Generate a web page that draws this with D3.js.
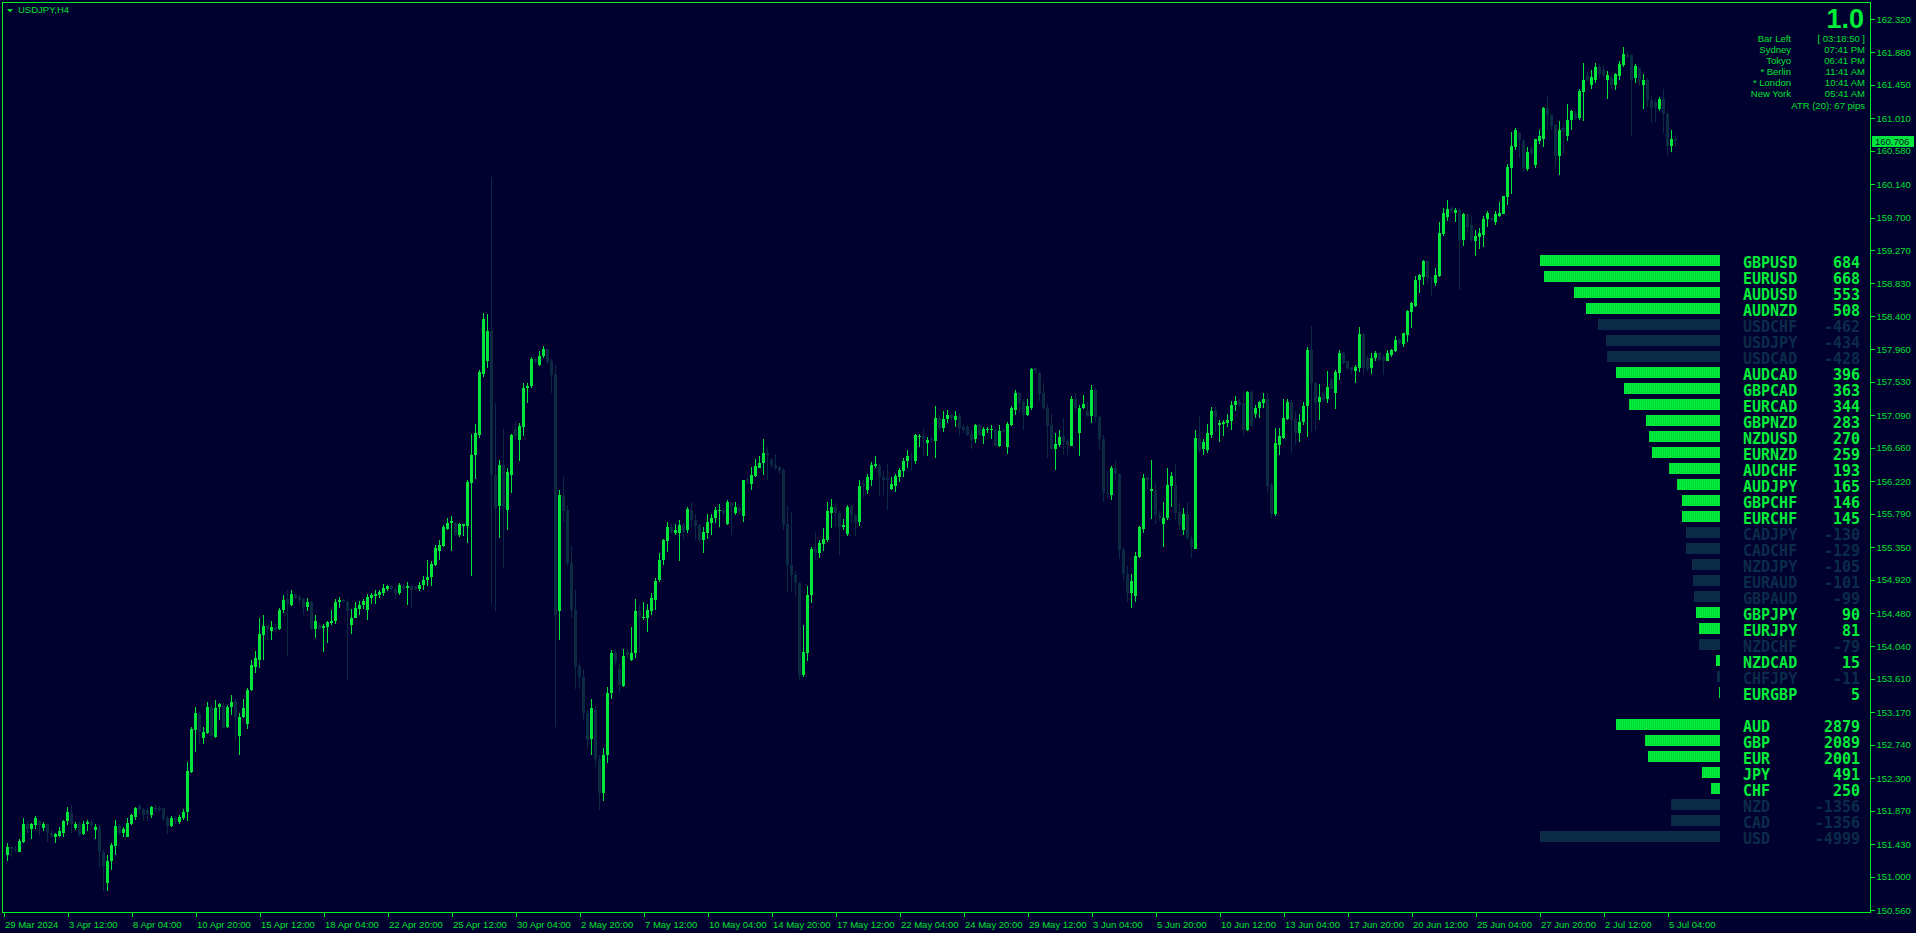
<!DOCTYPE html>
<html><head><meta charset="utf-8">
<script src="https://cdn.jsdelivr.net/npm/d3@7"></script>
<style>html,body{margin:0;padding:0;background:#010130;overflow:hidden}</style>
</head><body><svg id="c" width="1916" height="933"></svg>
<script>
// ---------------- DATA ----------------
const symbolTitle = "USDJPY,H4";
const versionText = "1.0";
const sessionLabels = ["Bar Left","Sydney","Tokyo","* Berlin","* London","New York"];
const sessionValues = ["[ 03:18:50 ]","07:41 PM","06:41 PM","11:41 AM","10:41 AM","05:41 AM"];
const atrText = "ATR (20): 67 pips";
const lastPrice = 160.706;
const yTickValues = [162.320,161.880,161.450,161.010,160.580,160.140,159.700,159.270,158.830,158.400,157.960,157.530,157.090,156.660,156.220,155.790,155.350,154.920,154.480,154.040,153.610,153.170,152.740,152.300,151.870,151.430,151.000,150.560];
const xTickLabels = ["29 Mar 2024","3 Apr 12:00","8 Apr 04:00","10 Apr 20:00","15 Apr 12:00","18 Apr 04:00","22 Apr 20:00","25 Apr 12:00","30 Apr 04:00","2 May 20:00","7 May 12:00","10 May 04:00","14 May 20:00","17 May 12:00","22 May 04:00","24 May 20:00","29 May 12:00","3 Jun 04:00","5 Jun 20:00","10 Jun 12:00","13 Jun 04:00","17 Jun 20:00","20 Jun 12:00","25 Jun 04:00","27 Jun 20:00","2 Jul 12:00","5 Jul 04:00"];
const barsPerLabel = 16;
const pairNames = ["GBPUSD","EURUSD","AUDUSD","AUDNZD","USDCHF","USDJPY","USDCAD","AUDCAD","GBPCAD","EURCAD","GBPNZD","NZDUSD","EURNZD","AUDCHF","AUDJPY","GBPCHF","EURCHF","CADJPY","CADCHF","NZDJPY","EURAUD","GBPAUD","GBPJPY","EURJPY","NZDCHF","NZDCAD","CHFJPY","EURGBP"];
const pairValues = [684,668,553,508,-462,-434,-428,396,363,344,283,270,259,193,165,146,145,-130,-129,-105,-101,-99,90,81,-79,15,-11,5];
const currencyNames = ["AUD","GBP","EUR","JPY","CHF","NZD","CAD","USD"];
const currencyValues = [2879,2089,2001,491,250,-1356,-1356,-4999];
// H4 candles: [open, high, low, close]
const ohlc = [
[151.28,151.44,151.21,151.39],[151.39,151.41,151.26,151.37],[151.37,151.40,151.33,151.36],[151.33,151.50,151.32,151.47],[151.46,151.78,151.45,151.70],
[151.70,151.73,151.57,151.63],[151.63,151.71,151.50,151.69],[151.68,151.80,151.63,151.77],[151.73,151.75,151.55,151.68],[151.64,151.72,151.60,151.69],
[151.69,151.70,151.46,151.58],[151.58,151.61,151.52,151.53],[151.53,151.58,151.45,151.56],[151.54,151.65,151.52,151.60],[151.58,151.75,151.53,151.74],
[151.74,151.92,151.68,151.85],[151.84,151.95,151.58,151.70],[151.64,151.72,151.62,151.69],[151.70,151.73,151.53,151.55],[151.56,151.73,151.55,151.70],
[151.69,151.75,151.60,151.72],[151.72,151.75,151.66,151.68],[151.62,151.70,151.50,151.65],[151.65,151.68,151.11,151.33],[151.33,151.37,150.81,151.14],
[150.91,151.29,150.81,151.21],[151.21,151.45,151.09,151.42],[151.41,151.75,151.28,151.67],[151.67,151.70,151.55,151.58],[151.58,151.65,151.53,151.63],
[151.52,151.78,151.52,151.71],[151.70,151.83,151.68,151.81],[151.79,151.92,151.75,151.91],[151.93,151.96,151.83,151.88],[151.89,151.91,151.73,151.82],
[151.88,151.91,151.73,151.83],[151.82,151.93,151.77,151.92],[151.91,151.94,151.85,151.88],[151.91,151.93,151.86,151.88],[151.90,151.91,151.73,151.76],
[151.78,151.80,151.56,151.67],[151.67,151.80,151.65,151.77],[151.78,151.80,151.70,151.73],[151.72,151.82,151.70,151.79],[151.77,151.89,151.75,151.86],
[151.85,152.52,151.74,152.39],[152.38,152.97,152.37,152.95],[152.94,153.24,152.64,153.16],[153.15,153.17,152.75,152.91],[152.83,152.97,152.75,152.91],
[152.90,153.30,152.88,153.24],[153.24,153.27,152.80,152.86],[152.84,153.33,152.83,153.23],[153.24,153.29,153.07,153.28],[153.27,153.29,152.96,152.96],
[152.97,153.27,152.96,153.24],[153.24,153.40,153.14,153.31],[153.32,153.35,152.81,153.11],[152.85,153.16,152.60,153.11],[153.11,153.35,153.09,153.22],
[153.01,153.49,152.95,153.47],[153.46,153.86,153.45,153.79],[153.77,153.98,153.69,153.89],[153.86,154.42,153.76,154.20],[154.19,154.45,153.86,154.31],
[154.31,154.32,154.12,154.27],[154.24,154.37,154.12,154.29],[154.30,154.33,154.22,154.26],[154.27,154.55,154.26,154.52],[154.52,154.72,154.48,154.65],
[154.66,154.78,153.91,154.60],[154.58,154.79,154.57,154.73],[154.72,154.75,154.67,154.68],[154.69,154.72,154.60,154.65],[154.67,154.68,154.45,154.56],
[154.56,154.68,154.50,154.63],[154.63,154.64,154.26,154.27],[154.27,154.45,154.15,154.38],[154.32,154.35,154.25,154.27],[154.28,154.34,153.96,154.31],
[154.30,154.37,154.08,154.36],[154.35,154.52,154.32,154.38],[154.38,154.66,154.34,154.63],[154.63,154.69,154.54,154.65],[154.65,154.67,154.62,154.63],
[154.63,154.66,153.60,154.50],[154.32,154.53,154.20,154.42],[154.42,154.63,154.41,154.54],[154.53,154.64,154.46,154.58],[154.58,154.66,154.53,154.64],
[154.52,154.73,154.39,154.69],[154.68,154.75,154.60,154.72],[154.71,154.78,154.60,154.73],[154.72,154.78,154.68,154.76],[154.75,154.86,154.71,154.81],
[154.80,154.85,154.77,154.83],[154.83,154.85,154.79,154.80],[154.80,154.82,154.66,154.75],[154.75,154.87,154.72,154.85],[154.84,154.86,154.79,154.80],
[154.81,154.89,154.58,154.83],[154.83,154.84,154.55,154.78],[154.82,154.84,154.79,154.80],[154.80,154.89,154.77,154.85],[154.85,154.97,154.78,154.91],
[154.91,155.18,154.84,154.95],[154.95,155.16,154.84,155.13],[155.12,155.38,155.10,155.34],[155.30,155.44,155.18,155.38],[155.37,155.64,155.35,155.61],
[155.59,155.73,155.57,155.67],[155.67,155.76,155.30,155.69],[155.67,155.68,155.50,155.51],[155.51,155.67,155.48,155.65],[155.63,155.66,155.50,155.65],
[155.63,156.23,155.40,156.21],[156.20,156.84,154.97,156.57],[156.57,156.97,156.25,156.85],[156.83,157.69,156.79,157.66],[157.64,158.44,157.59,158.36],
[157.80,158.43,157.71,158.20],[158.20,160.23,154.60,156.30],[156.30,157.25,154.50,155.86],[155.89,156.50,155.47,156.43],[156.43,156.91,155.07,155.86],
[155.84,156.39,155.58,156.34],[156.30,156.84,156.06,156.83],[156.91,157.02,156.76,156.81],[156.76,156.99,156.48,156.95],[156.94,157.51,156.82,157.45],
[157.45,157.51,157.25,157.48],[157.47,157.86,157.45,157.83],[157.84,157.86,157.76,157.79],[157.75,157.94,157.74,157.87],[157.87,158.00,157.84,157.97],
[157.97,157.97,157.76,157.79],[157.80,157.83,157.39,157.62],[157.63,157.75,152.98,154.45],[154.50,156.10,154.12,156.04],[156.02,156.29,155.68,155.82],
[155.84,155.90,155.10,155.14],[155.14,155.36,154.41,154.52],[154.52,154.79,153.48,153.77],[153.78,153.82,153.48,153.63],[153.63,153.74,153.07,153.16],
[153.16,153.20,152.70,152.80],[152.82,153.34,152.60,153.22],[153.20,153.25,152.45,152.55],[152.55,152.60,151.88,152.10],[152.10,152.70,152.00,152.60],
[152.60,153.50,152.50,153.43],[153.42,153.99,153.34,153.95],[153.95,154.00,153.80,153.85],[153.74,153.81,153.42,153.53],[153.52,154.01,153.50,153.91],
[153.97,154.00,153.88,153.92],[153.86,154.29,153.85,153.95],[153.95,154.66,153.88,154.50],[154.50,154.58,153.95,154.43],[154.41,154.63,154.39,154.43],
[154.42,154.60,154.23,154.52],[154.51,154.75,154.45,154.68],[154.65,154.94,154.52,154.90],[154.91,155.27,154.89,155.18],[155.18,155.46,155.11,155.44],
[155.43,155.68,155.28,155.61],[155.62,155.65,155.52,155.55],[155.54,155.66,155.51,155.57],[155.53,155.71,155.16,155.64],[155.64,155.67,155.44,155.55],
[155.57,155.88,155.54,155.85],[155.84,155.95,155.62,155.71],[155.71,155.79,155.44,155.63],[155.64,155.66,155.42,155.44],[155.44,155.61,155.27,155.55],
[155.54,155.79,155.46,155.68],[155.67,155.79,155.51,155.74],[155.73,155.88,155.67,155.84],[155.83,155.92,155.61,155.84],[155.84,155.87,155.77,155.80],
[155.66,155.97,155.64,155.94],[155.93,155.95,155.51,155.88],[155.80,155.94,155.77,155.88],[155.86,155.89,155.79,155.82],[155.76,156.24,155.68,156.23],
[156.25,156.28,156.20,156.23],[156.18,156.41,156.11,156.30],[156.29,156.51,156.28,156.42],[156.40,156.55,156.39,156.46],[156.46,156.78,156.30,156.59],
[156.59,156.67,156.23,156.57],[156.50,156.53,156.40,156.43],[156.43,156.58,156.37,156.39],[156.41,156.42,156.31,156.36],[156.37,156.39,155.57,155.64],
[155.65,155.89,154.76,155.11],[155.12,155.81,154.76,154.98],[154.98,155.04,154.70,154.88],[154.88,154.89,153.60,153.66],[153.66,154.32,153.63,153.96],
[153.95,154.83,153.85,154.72],[154.72,155.35,154.61,155.33],[155.33,155.55,155.18,155.27],[155.27,155.44,155.21,155.41],[155.39,155.60,155.30,155.46],
[155.44,155.94,155.42,155.82],[155.80,155.98,155.60,155.88],[155.88,155.93,155.62,155.80],[155.80,155.82,155.25,155.62],[155.61,155.72,155.57,155.64],
[155.52,155.90,155.50,155.88],[155.89,155.90,155.67,155.77],[155.77,155.79,155.50,155.67],[155.68,156.24,155.63,156.16],[156.18,156.23,156.01,156.15],
[156.10,156.31,156.05,156.27],[156.24,156.47,156.16,156.43],[156.42,156.55,156.39,156.45],[156.42,156.45,156.02,156.27],[156.28,156.35,156.04,156.24],
[156.26,156.45,155.84,156.24],[156.12,156.27,156.10,156.18],[156.16,156.31,156.08,156.29],[156.28,156.40,156.21,156.37],[156.35,156.52,156.28,156.49],
[156.48,156.63,156.40,156.55],[156.54,156.59,156.35,156.52],[156.49,156.84,156.45,156.83],[156.80,156.84,156.67,156.82],[156.82,156.92,156.55,156.77],
[156.73,156.80,156.55,156.76],[156.78,156.80,156.74,156.76],[156.75,157.21,156.53,157.05],[157.06,157.08,156.90,156.92],[156.92,157.15,156.87,157.04],
[157.04,157.16,156.99,157.09],[157.09,157.11,157.03,157.06],[157.03,157.15,156.94,157.08],[157.08,157.12,156.82,156.92],[156.93,156.96,156.86,156.90],
[156.93,156.96,156.81,156.83],[156.84,156.89,156.65,156.76],[156.78,156.97,156.73,156.96],[156.96,156.97,156.81,156.83],[156.82,156.94,156.71,156.91],
[156.90,156.93,156.85,156.91],[156.89,156.96,156.77,156.91],[156.90,156.93,156.67,156.68],[156.68,156.96,156.67,156.88],[156.89,156.91,156.86,156.87],
[156.67,157.00,156.58,156.97],[156.96,157.21,156.95,157.18],[157.16,157.42,157.09,157.38],[157.39,157.40,157.12,157.25],[157.26,157.31,156.89,157.09],
[157.09,157.30,157.08,157.21],[157.19,157.71,157.16,157.70],[157.71,157.72,157.64,157.67],[157.65,157.66,157.28,157.37],[157.38,157.51,157.16,157.18],
[157.19,157.24,156.53,156.95],[156.96,157.11,156.63,156.64],[156.64,156.85,156.37,156.71],[156.70,156.89,156.67,156.80],[156.81,157.05,156.56,156.74],
[156.75,156.78,156.56,156.70],[156.69,157.34,156.68,157.30],[157.30,157.38,157.14,157.18],[156.86,157.22,156.55,157.19],[157.18,157.36,157.17,157.24],
[157.15,157.27,157.07,157.08],[157.08,157.49,156.99,157.42],[157.42,157.45,157.00,157.07],[157.07,157.08,156.63,156.77],[156.78,156.83,155.95,156.07],
[156.06,156.34,156.00,156.05],[156.04,156.42,155.97,156.40],[156.39,156.50,156.24,156.32],[156.32,156.33,155.19,155.31],[155.31,155.35,154.90,155.00],
[155.00,155.10,154.62,154.75],[154.75,155.00,154.55,154.90],[154.70,155.28,154.62,155.23],[155.22,155.63,155.20,155.61],[155.59,156.31,155.54,156.26],
[156.27,156.28,156.12,156.23],[156.09,156.50,155.72,156.12],[156.10,156.19,155.65,155.77],[155.78,155.82,155.70,155.73],[155.66,155.95,155.35,155.74],
[155.73,156.39,155.71,156.17],[156.16,156.34,155.88,156.29],[156.17,156.45,155.71,155.80],[155.81,155.93,155.58,155.64],[155.58,155.86,155.51,155.79],
[155.79,155.95,155.44,155.47],[155.46,155.49,155.20,155.35],[155.33,156.89,155.32,156.79],[156.79,157.08,156.59,156.63],[156.65,156.78,156.56,156.74],
[156.63,156.97,156.59,156.85],[156.83,157.20,156.79,157.14],[157.14,157.20,156.87,157.07],[156.96,157.03,156.74,156.99],[156.97,157.03,156.82,157.00],
[156.99,157.11,156.94,157.03],[157.01,157.28,156.89,157.22],[157.22,157.34,157.14,157.28],[157.27,157.30,157.20,157.22],[157.25,157.39,156.81,156.89],
[156.89,157.41,156.88,157.40],[157.40,157.42,156.93,156.95],[157.11,157.22,157.05,157.18],[157.18,157.28,157.05,157.26],[157.25,157.38,157.18,157.31],
[157.31,157.38,156.07,156.15],[156.17,156.19,155.73,155.79],[155.79,156.92,155.76,156.72],[156.70,156.92,156.56,156.81],[156.79,157.31,156.77,157.05],
[157.04,157.31,157.03,157.27],[157.27,157.29,156.59,157.03],[157.04,157.14,156.70,156.85],[156.85,157.11,156.74,157.00],[157.00,157.26,156.96,157.21],
[157.21,157.99,156.80,157.95],[157.95,158.27,156.87,157.51],[157.51,157.53,156.89,157.25],[157.26,157.50,157.03,157.33],[157.38,157.40,157.28,157.29],
[157.31,157.68,157.25,157.46],[157.55,157.58,157.43,157.44],[157.39,157.69,157.17,157.66],[157.65,157.95,157.55,157.91],[157.91,157.93,157.77,157.78],
[157.80,157.81,157.69,157.71],[157.71,157.73,157.64,157.69],[157.68,157.75,157.52,157.73],[157.71,158.25,157.66,158.16],[158.16,158.17,157.64,157.71],
[157.84,157.88,157.66,157.70],[157.71,157.91,157.64,157.84],[157.84,157.94,157.80,157.91],[157.91,157.93,157.80,157.82],[157.86,157.88,157.62,157.80],
[157.81,157.95,157.80,157.91],[157.89,157.97,157.86,157.95],[157.94,158.14,157.93,158.08],[158.08,158.10,158.02,158.04],[158.03,158.18,157.99,158.17],
[158.15,158.48,158.06,158.46],[158.45,158.59,158.24,158.57],[158.53,158.93,158.52,158.88],[158.88,158.96,158.70,158.94],[158.92,159.14,158.81,159.12],
[159.12,159.14,158.83,158.90],[158.91,158.92,158.66,158.90],[158.84,159.03,158.79,158.94],[158.93,159.64,158.91,159.50],[159.48,159.82,159.45,159.76],
[159.71,159.93,159.65,159.81],[159.82,159.85,159.76,159.78],[159.76,159.82,159.64,159.80],[159.80,159.82,158.74,159.40],[159.40,159.76,159.32,159.75],
[159.75,159.75,159.49,159.58],[159.60,159.72,159.38,159.40],[159.39,159.53,159.19,159.45],[159.44,159.56,159.28,159.50],[159.47,159.72,159.31,159.68],
[159.68,159.78,159.58,159.76],[159.69,159.70,159.64,159.67],[159.64,159.78,159.60,159.75],[159.72,159.91,159.71,159.76],[159.75,159.99,159.75,159.98],
[159.97,160.41,159.87,160.37],[160.35,160.83,160.01,160.64],[160.63,160.88,160.59,160.85],[160.82,160.83,160.48,160.72],[160.71,160.73,160.30,160.35],
[160.34,160.63,160.32,160.57],[160.60,160.64,160.52,160.55],[160.39,160.74,160.35,160.73],[160.71,160.85,160.67,160.77],[160.74,161.16,160.63,161.14],
[161.14,161.30,160.85,161.05],[161.05,161.07,160.85,160.91],[160.92,160.94,160.37,160.51],[160.51,160.98,160.26,160.86],[160.88,160.92,160.55,160.83],
[160.77,161.20,160.71,160.99],[160.99,161.12,160.85,161.10],[161.08,161.11,160.99,161.00],[161.01,161.40,160.99,161.37],[161.36,161.74,160.98,161.52],
[161.58,161.62,161.50,161.52],[161.45,161.65,161.39,161.55],[161.52,161.74,161.47,161.69],[161.69,161.73,161.54,161.60],[161.65,161.71,161.56,161.58],
[161.51,161.64,161.26,161.58],[161.56,161.58,161.39,161.45],[161.45,161.61,161.38,161.59],[161.57,161.76,161.52,161.73],[161.71,161.95,161.69,161.86],
[161.85,161.88,161.80,161.82],[161.84,161.86,160.77,161.52],[161.54,161.73,161.47,161.70],[161.67,161.69,161.43,161.52],[161.45,161.60,161.13,161.52],
[161.52,161.54,161.16,161.25],[161.25,161.30,160.95,161.14],[161.23,161.26,160.96,161.16],[161.13,161.29,161.10,161.26],[161.27,161.40,160.81,161.07],
[161.07,161.10,160.53,160.64],[160.64,160.86,160.57,160.74],[160.74,160.79,160.63,160.706]
];

// ---------------- STYLE ----------------
const W = 1916, H = 933;
const bg = "#010130";
const frameCol = "#00f020";
const textCol = "#00e030";
const bullCol = "#00e63c";
const bearCol = "#0a2b42";
const posCol = "#00ee3a";
const negCol = "#0b2c48";
const font = "'Liberation Sans', Arial, sans-serif";

const svg = d3.select("#c");
svg.append("rect").attr("width", W).attr("height", H).attr("fill", bg);

const defs = svg.append("defs");
function stripe(id, a, b) {
  const p = defs.append("pattern").attr("id", id).attr("patternUnits", "userSpaceOnUse")
    .attr("width", 2).attr("height", 4);
  p.append("rect").attr("width", 1).attr("height", 4).attr("fill", a);
  p.append("rect").attr("x", 1).attr("width", 1).attr("height", 4).attr("fill", b);
}
stripe("posStripe", "#00f23c", "#00d836");
stripe("negStripe", "#0c2e4a", "#0a2843");

const plotL = 2, plotT = 2, plotR = 1870, plotB = 912;
const y = d3.scaleLinear().domain([150.560, 162.320]).range([910, 19]);
const x = d3.scaleLinear().domain([0, ohlc.length - 1]).range([7, 7 + 4 * (ohlc.length - 1)]);

// candles
const cg = svg.append("g").attr("shape-rendering", "crispEdges");
const cand = cg.selectAll("g").data(ohlc).join("g");
cand.append("line")
  .attr("x1", (d, i) => Math.round(x(i)) + 0.5).attr("x2", (d, i) => Math.round(x(i)) + 0.5)
  .attr("y1", d => y(d[1])).attr("y2", d => y(d[2]))
  .attr("stroke", d => d[3] >= d[0] ? bullCol : bearCol).attr("stroke-width", 1);
cand.append("rect")
  .attr("x", (d, i) => Math.round(x(i)) - 1).attr("width", 3)
  .attr("y", d => y(Math.max(d[0], d[3])))
  .attr("height", d => Math.max(1, Math.abs(y(d[0]) - y(d[3]))))
  .attr("fill", d => d[3] >= d[0] ? bullCol : bearCol);

// frame
svg.append("rect").attr("x", plotL + 0.5).attr("y", plotT + 0.5)
  .attr("width", plotR - plotL).attr("height", plotB - plotT)
  .attr("fill", "none").attr("stroke", frameCol).attr("shape-rendering", "crispEdges");

// right price axis
const ay = d3.axisRight(y).tickValues(yTickValues).tickFormat(d3.format(".3f")).tickSize(4).tickPadding(2);
const gy = svg.append("g").attr("transform", `translate(${plotR + 0.5},0)`).call(ay);
gy.select(".domain").remove();
gy.selectAll("line").attr("stroke", frameCol).attr("shape-rendering", "crispEdges");
gy.selectAll("text").attr("fill", textCol).style("font-family", font).style("font-size", "9.5px");

// current price tag
const py = y(lastPrice);
svg.append("rect").attr("x", plotR + 2).attr("y", Math.round(py) - 5.5).attr("width", 42).attr("height", 11)
  .attr("fill", bullCol).attr("shape-rendering", "crispEdges");
svg.append("text").attr("x", plotR + 5).attr("y", Math.round(py) + 3.5).text(d3.format(".3f")(lastPrice))
  .attr("fill", "#012030").style("font-family", font).style("font-size", "9.5px");

// bottom time axis
const tickIdx = xTickLabels.map((_, k) => barsPerLabel * k - 1);
const ax = d3.axisBottom(x).tickValues(tickIdx).tickFormat((d, k) => xTickLabels[k]).tickSize(4).tickPadding(5);
const gx = svg.append("g").attr("transform", `translate(0.5,${plotB + 0.5})`).call(ax);
gx.select(".domain").remove();
gx.selectAll("line").attr("stroke", frameCol).attr("shape-rendering", "crispEdges");
gx.selectAll("text").attr("fill", textCol).attr("text-anchor", "start").attr("dx", 1)
  .style("font-family", font).style("font-size", "9.5px");

// title
svg.append("path").attr("d", "M7,9 L13,9 L10,12.5 Z").attr("fill", textCol);
svg.append("text").attr("x", 18).attr("y", 13).text(symbolTitle)
  .attr("fill", textCol).style("font-family", font).style("font-size", "9.5px");

// info panel
svg.append("text").attr("x", 1864).attr("y", 28).attr("text-anchor", "end").text(versionText)
  .attr("fill", posCol).style("font-family", font).style("font-size", "27px").style("font-weight", "bold");
sessionLabels.forEach((s, k) => {
  const yy = 41.5 + k * 11;
  svg.append("text").attr("x", 1791).attr("y", yy).attr("text-anchor", "end").text(s)
    .attr("fill", textCol).style("font-family", font).style("font-size", "9.5px");
  svg.append("text").attr("x", 1865).attr("y", yy).attr("text-anchor", "end").text(sessionValues[k])
    .attr("fill", textCol).style("font-family", font).style("font-size", "9.5px");
});
svg.append("text").attr("x", 1865).attr("y", 108.5).attr("text-anchor", "end").text(atrText)
  .attr("fill", textCol).style("font-family", font).style("font-size", "9.5px");

// strength panels
const barRight = 1720, barMaxW = 180, rowPitch = 16, barH = 11;
const monoFont = "'DejaVu Sans Mono', monospace";
function strengthPanel(names, values, top) {
  const s = d3.scaleLinear().domain([0, d3.max(values, v => Math.abs(v))]).range([0, barMaxW]);
  const g = svg.append("g");
  const rows = g.selectAll("g").data(values).join("g")
    .attr("transform", (d, k) => `translate(0,${top + k * rowPitch})`);
  rows.append("rect")
    .attr("x", d => barRight - Math.max(1, s(Math.abs(d))))
    .attr("width", d => Math.max(1, s(Math.abs(d))))
    .attr("y", 0).attr("height", barH)
    .attr("fill", d => d >= 0 ? "url(#posStripe)" : "url(#negStripe)")
    .attr("shape-rendering", "crispEdges");
  rows.append("text").attr("x", 1743).attr("y", 13).text((d, k) => names[k])
    .attr("fill", d => d >= 0 ? posCol : negCol)
    .style("font-family", monoFont).style("font-size", "15px").style("font-weight", "bold");
  rows.append("text").attr("x", 1860).attr("y", 13).attr("text-anchor", "end").text(d => d)
    .attr("fill", d => d >= 0 ? posCol : negCol)
    .style("font-family", monoFont).style("font-size", "15px").style("font-weight", "bold");
}
strengthPanel(pairNames, pairValues, 255);
strengthPanel(currencyNames, currencyValues, 719);
</script>
</body></html>
